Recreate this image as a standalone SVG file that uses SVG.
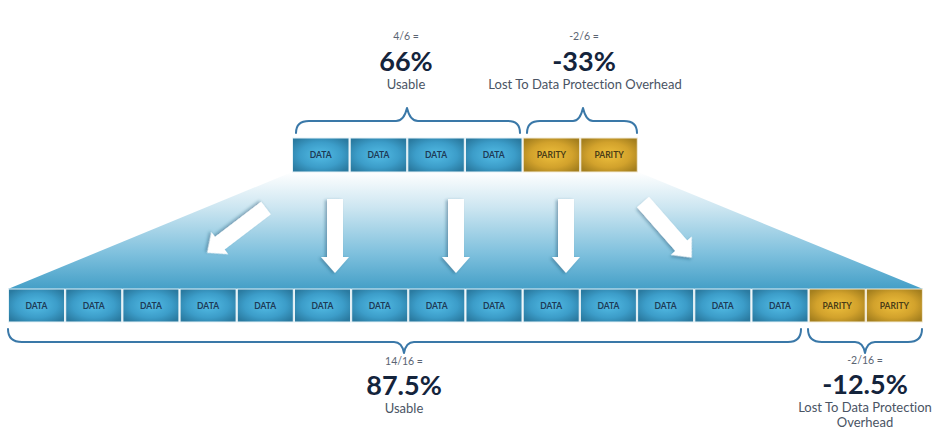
<svg xmlns="http://www.w3.org/2000/svg" width="950" height="442" viewBox="0 0 950 442">
<defs>
<linearGradient id="fan" x1="0" y1="172" x2="0" y2="289" gradientUnits="userSpaceOnUse">
<stop offset="0" stop-color="#ffffff"/>
<stop offset="0.3" stop-color="#cde6f1"/>
<stop offset="0.7" stop-color="#7ec0dd"/>
<stop offset="1" stop-color="#449fc7"/>
</linearGradient>
<radialGradient id="gData" cx="0.5" cy="0.5" r="0.62">
<stop offset="0" stop-color="#53bce5"/>
<stop offset="0.6" stop-color="#3c9dc9"/>
<stop offset="1" stop-color="#2a7aa0"/>
</radialGradient>
<radialGradient id="gPar" cx="0.5" cy="0.5" r="0.62">
<stop offset="0" stop-color="#eebf3c"/>
<stop offset="0.6" stop-color="#d2a22c"/>
<stop offset="1" stop-color="#a47f1e"/>
</radialGradient>
<filter id="sh" x="-30%" y="-30%" width="160%" height="160%">
<feDropShadow dx="1" dy="2" stdDeviation="1.8" flood-color="#1b4a66" flood-opacity="0.4"/>
</filter>
<path id="arr" d="M0,-8 L58,-8 L58,-14 L74,0 L58,14 L58,8 L0,8 Z"/>
</defs>
<style>
text{font-family:Lato,"Liberation Sans",sans-serif;font-variant-ligatures:none;text-anchor:middle}
.bd{fill:url(#gData);stroke:#e6f2f7;stroke-width:1}
.bp{fill:url(#gPar);stroke:#f3ecd8;stroke-width:1}
.bt{font-size:8.5px;font-weight:700;fill:#1d3a56}
.pt{font-size:8.5px;font-weight:700;fill:#4a3c16}
.brace{fill:none;stroke:#3a78a8;stroke-width:2;stroke-linecap:round;stroke-linejoin:round}
.frac{font-size:10.5px;fill:#5a6472}
.big{font-size:27px;font-weight:700;fill:#14243c}
.lab{font-size:13px;fill:#4a5464}
.ar{fill:#ffffff;filter:url(#sh)}
</style>
<rect width="950" height="442" fill="#ffffff"/>
<polygon id="fan-area" points="292,172 638,172 923,289 8,289" fill="url(#fan)"/>

<g id="connectors">
<use href="#arr" class="ar" transform="translate(266,208) rotate(142.7)"/>
<use href="#arr" class="ar" transform="translate(335,199) rotate(90)"/>
<use href="#arr" class="ar" transform="translate(456,199) rotate(90)"/>
<use href="#arr" class="ar" transform="translate(566,199) rotate(90)"/>
<use href="#arr" class="ar" transform="translate(643,202) rotate(48.8)"/>
</g>

<g id="top-row">
<g id="t1"><rect class="bd" x="292.5" y="138" width="56.5" height="34"/><text class="bt" x="320.8" y="158">DATA</text></g>
<g id="t2"><rect class="bd" x="350.2" y="138" width="56.5" height="34"/><text class="bt" x="378.4" y="158">DATA</text></g>
<g id="t3"><rect class="bd" x="407.8" y="138" width="56.5" height="34"/><text class="bt" x="436.1" y="158">DATA</text></g>
<g id="t4"><rect class="bd" x="465.5" y="138" width="56.5" height="34"/><text class="bt" x="493.8" y="158">DATA</text></g>
<g id="t5"><rect class="bp" x="523.2" y="138" width="56.5" height="34"/><text class="pt" x="551.4" y="158">PARITY</text></g>
<g id="t6"><rect class="bp" x="580.8" y="138" width="56.5" height="34"/><text class="pt" x="609.1" y="158">PARITY</text></g>
</g>

<g id="bottom-row">
<g id="b1"><rect class="bd" x="8.5" y="289" width="56" height="33"/><text class="bt" x="36.5" y="308.5">DATA</text></g>
<g id="b2"><rect class="bd" x="65.7" y="289" width="56" height="33"/><text class="bt" x="93.7" y="308.5">DATA</text></g>
<g id="b3"><rect class="bd" x="122.9" y="289" width="56" height="33"/><text class="bt" x="150.9" y="308.5">DATA</text></g>
<g id="b4"><rect class="bd" x="180.1" y="289" width="56" height="33"/><text class="bt" x="208.1" y="308.5">DATA</text></g>
<g id="b5"><rect class="bd" x="237.3" y="289" width="56" height="33"/><text class="bt" x="265.3" y="308.5">DATA</text></g>
<g id="b6"><rect class="bd" x="294.5" y="289" width="56" height="33"/><text class="bt" x="322.5" y="308.5">DATA</text></g>
<g id="b7"><rect class="bd" x="351.7" y="289" width="56" height="33"/><text class="bt" x="379.7" y="308.5">DATA</text></g>
<g id="b8"><rect class="bd" x="408.8" y="289" width="56" height="33"/><text class="bt" x="436.8" y="308.5">DATA</text></g>
<g id="b9"><rect class="bd" x="466.0" y="289" width="56" height="33"/><text class="bt" x="494.0" y="308.5">DATA</text></g>
<g id="b10"><rect class="bd" x="523.2" y="289" width="56" height="33"/><text class="bt" x="551.2" y="308.5">DATA</text></g>
<g id="b11"><rect class="bd" x="580.4" y="289" width="56" height="33"/><text class="bt" x="608.4" y="308.5">DATA</text></g>
<g id="b12"><rect class="bd" x="637.6" y="289" width="56" height="33"/><text class="bt" x="665.6" y="308.5">DATA</text></g>
<g id="b13"><rect class="bd" x="694.8" y="289" width="56" height="33"/><text class="bt" x="722.8" y="308.5">DATA</text></g>
<g id="b14"><rect class="bd" x="752.0" y="289" width="56" height="33"/><text class="bt" x="780.0" y="308.5">DATA</text></g>
<g id="b15"><rect class="bp" x="809.2" y="289" width="56" height="33"/><text class="pt" x="837.2" y="308.5">PARITY</text></g>
<g id="b16"><rect class="bp" x="866.4" y="289" width="56" height="33"/><text class="pt" x="894.4" y="308.5">PARITY</text></g>
</g>

<g id="braces">
<path class="brace" d="M296,133 Q296,121 309,121 L396,121 Q404,121 407,108 Q410,121 418,121 L508,121 Q520,121 520,133"/>
<path class="brace" d="M527,133 Q527,121 540,121 L573,121 Q580,121 583,108 Q586,121 593,121 L624,121 Q637,121 637,133"/>
<path class="brace" d="M8,329 Q8,342 22,342 L394,342 Q402,342 404,353 Q406,342 414,342 L788,342 Q801,342 801,329"/>
<path class="brace" d="M808,329 Q808,342 822,342 L855,342 Q863,342 865,353 Q867,342 875,342 L908,342 Q922,342 922,329"/>
</g>

<g id="label-top-usable">
<text class="frac" x="406" y="40">4/6 =</text>
<text class="big" x="406" y="71">66%</text>
<text class="lab" x="406" y="89">Usable</text>
</g>
<g id="label-top-overhead">
<text class="frac" x="584" y="40">-2/6 =</text>
<text class="big" x="584" y="71">-33%</text>
<text class="lab" x="585" y="89">Lost To Data Protection Overhead</text>
</g>
<g id="label-bottom-usable">
<text class="frac" x="404" y="365">14/16 =</text>
<text class="big" x="404" y="395">87.5%</text>
<text class="lab" x="404" y="413">Usable</text>
</g>
<g id="label-bottom-overhead">
<text class="frac" x="865" y="364">-2/16 =</text>
<text class="big" x="865" y="394">-12.5%</text>
<text class="lab" x="865" y="412">Lost To Data Protection</text>
<text class="lab" x="865" y="427">Overhead</text>
</g>
</svg>
